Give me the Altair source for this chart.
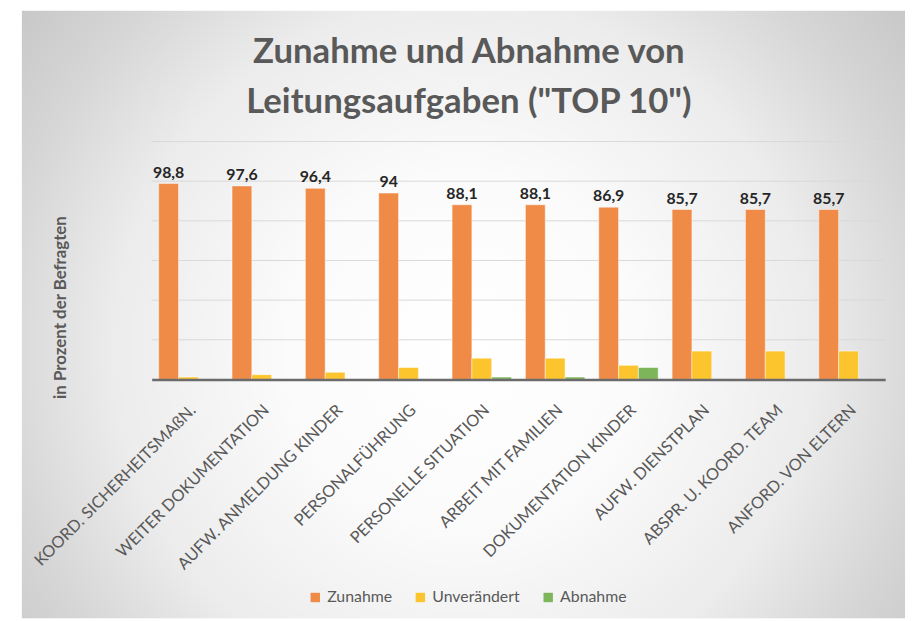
import altair as alt
import pandas as pd

categories = [
    "KOORD. SICHERHEITSMAßN.",
    "WEITER DOKUMENTATION",
    "AUFW. ANMELDUNG KINDER",
    "PERSONALFÜHRUNG",
    "PERSONELLE SITUATION",
    "ARBEIT MIT FAMILIEN",
    "DOKUMENTATION KINDER",
    "AUFW. DIENSTPLAN",
    "ABSPR. U. KOORD. TEAM",
    "ANFORD. VON ELTERN",
]
series = ["Zunahme", "Unverändert", "Abnahme"]
zunahme = [98.8, 97.6, 96.4, 94.0, 88.1, 88.1, 86.9, 85.7, 85.7, 85.7]
unveraendert = [1.2, 2.4, 3.6, 6.0, 10.7, 10.7, 7.1, 14.3, 14.3, 14.3]
abnahme = [0.0, 0.0, 0.0, 0.0, 1.2, 1.2, 6.0, 0.0, 0.0, 0.0]
colors = ["#EF8A47", "#FCC52E", "#7DB65A"]
y_ticks = [0, 20, 40, 60, 80, 100, 120]

rows = []
for i, c in enumerate(categories):
    for s, vals in zip(series, [zunahme, unveraendert, abnahme]):
        v = vals[i]
        rows.append({"cat": c, "series": s, "value": v,
                     "label": f"{v:g}".replace(".", ",")})
df = pd.DataFrame(rows)

TXT = "#595959"
FONT = "Lato"

bg = alt.Chart(alt.Data(values=[{"a": 1}])).mark_rect(
    color=alt.RadialGradient(
        gradient="radial",
        stops=[
            alt.GradientStop(offset=0, color="#ffffff"),
            alt.GradientStop(offset=0.3, color="#fbfbfb"),
            alt.GradientStop(offset=0.6, color="#ececec"),
            alt.GradientStop(offset=0.8, color="#d6d6d6"),
            alt.GradientStop(offset=1, color="#c4c4c4"),
        ],
        x1=0.5, y1=0.54, r1=0, x2=0.5, y2=0.54, r2=0.66,
    )
).encode(
    x=alt.value(-131), x2=alt.value(760), y=alt.value(-132), y2=alt.value(481)
)

x_enc = alt.X(
    "cat:N", sort=categories, title=None,
    scale=alt.Scale(paddingInner=0.19, paddingOuter=0.095),
    axis=alt.Axis(
        labelAngle=-45, labelAlign="right", labelBaseline="middle",
        labelFont=FONT, labelFontSize=16.5,
        labelColor=TXT, labelPadding=28, labelOffset=5, ticks=False,
        domainColor="#6b6b6b", domainWidth=2.5, grid=False, labelLimit=400,
        zindex=1,
    ),
)
xo_enc = alt.XOffset("series:N", sort=series, scale=alt.Scale(paddingInner=0, paddingOuter=0))
y_enc = alt.Y(
    "value:Q", scale=alt.Scale(domain=[0, 120], nice=False),
    axis=alt.Axis(
        values=y_ticks, labels=False, ticks=False, domain=False,
        grid=False, zindex=1,
        title="in Prozent der Befragten", titleFont=FONT, titleFontSize=17,
        titleFontWeight="bold", titleColor=TXT, titleAngle=270,
        titleX=-92, titleY=167, titleAlign="center", titleBaseline="middle",
    ),
)

grid = alt.Chart(pd.DataFrame({"t": y_ticks})).mark_rule(
    color="#d9d9d9", strokeWidth=1
).encode(y=alt.Y("t:Q", scale=alt.Scale(domain=[0, 120], nice=False)))

bars = alt.Chart(df).mark_bar(stroke="white", strokeWidth=0.8, strokeOpacity=0.6).encode(
    x=x_enc, xOffset=xo_enc, y=y_enc,
    color=alt.Color(
        "series:N", sort=series,
        scale=alt.Scale(domain=series, range=colors),
        legend=alt.Legend(
            title=None, orient="none", direction="horizontal",
            legendX=157, legendY=452, symbolType="square", symbolSize=90,
            symbolStrokeWidth=0, labelFont=FONT, labelFontSize=16,
            labelColor=TXT, columnPadding=20, labelOffset=4,
        ),
    ),
)

labels = alt.Chart(df).transform_filter(
    alt.datum.series == "Zunahme"
).mark_text(
    font=FONT, fontSize=16, fontWeight="bold", color="#262626",
    baseline="alphabetic", dy=-6,
).encode(x=x_enc, xOffset=xo_enc, y=y_enc, text="label:N")

chart = alt.layer(bg, grid, bars, labels).properties(
    width=740, height=240,
    padding={"left": 145, "top": 132, "right": 22, "bottom": 241},
    autosize=alt.AutoSizeParams(type="none"),
    background="white",
    title=alt.TitleParams(
        ["Zunahme und Abnahme von", 'Leitungsaufgaben ("TOP 10")'],
        font=FONT, fontSize=35, fontWeight="bold", color=TXT,
        anchor="middle", offset=0, dx=-50, dy=110, lineHeight=50, zindex=1,
    ),
).configure_view(stroke=None)

chart.save("out.html", embed_options={"renderer": "svg", "actions": False})
